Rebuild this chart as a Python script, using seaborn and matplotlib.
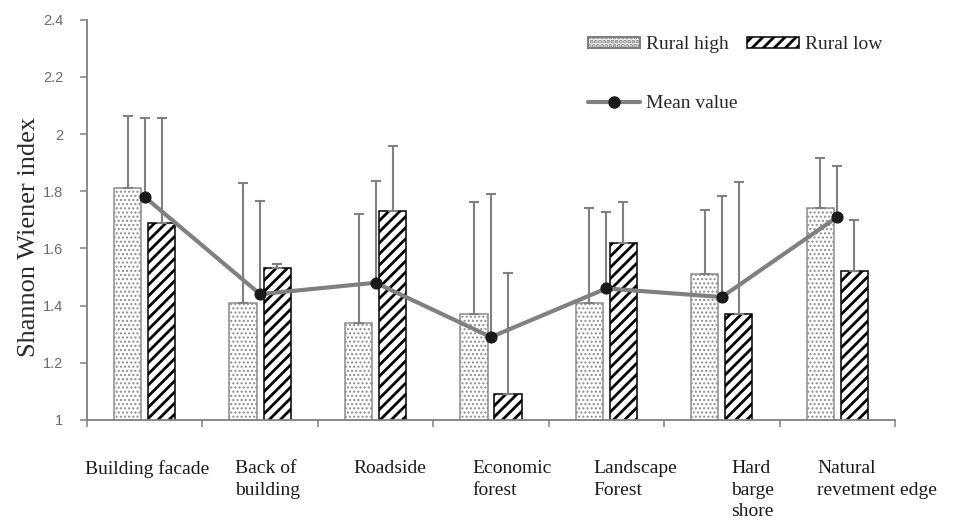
import numpy as np
import pandas as pd
import matplotlib
matplotlib.use("Agg")
import matplotlib.pyplot as plt
import seaborn as sns
from matplotlib.patches import Patch
from matplotlib.lines import Line2D
from matplotlib.transforms import ScaledTranslation

# Habitat categories along the x axis
categories = ["Building facade", "Back of\nbuilding", "Roadside", "Economic\nforest",
              "Landscape\nForest", "Hard\nbarge\nshore", "Natural\nrevetment edge"]

# Shannon-Wiener index per habitat
rural_high = [1.81, 1.41, 1.34, 1.37, 1.41, 1.51, 1.74]
rural_high_err = [0.255, 0.418, 0.38, 0.392, 0.331, 0.223, 0.178]
rural_low = [1.69, 1.53, 1.73, 1.09, 1.62, 1.37, 1.52]
rural_low_err = [0.366, 0.015, 0.227, 0.423, 0.142, 0.464, 0.18]
mean_value = [1.78, 1.44, 1.48, 1.29, 1.46, 1.43, 1.71]
mean_err = [0.276, 0.327, 0.357, 0.499, 0.269, 0.355, 0.179]

y_ticks = [1, 1.2, 1.4, 1.6, 1.8, 2, 2.2, 2.4]
series_names = ["Rural high", "Rural low"]

sns.set_style("white")
plt.rcParams["hatch.linewidth"] = 2.0
SERIF = ["Liberation Serif", "DejaVu Serif"]
SANS = ["Liberation Sans", "DejaVu Sans"]

GREY = "#808080"
DOT_GREY = "#8c8c8c"
DOT_HATCH = "...."
STRIPE_HATCH = "///"

df = pd.DataFrame({
    "site": categories * 2,
    "value": rural_high + rural_low,
    "group": [series_names[0]] * len(categories) + [series_names[1]] * len(categories),
})

fig = plt.figure(figsize=(9.55, 5.21), dpi=100)
ax = fig.add_axes([0.0911, 0.194, 0.846, 0.768])

sns.barplot(data=df, x="site", y="value", hue="group", order=categories,
            hue_order=series_names, palette=["white", "white"], width=0.59, gap=0.2,
            edgecolor=GREY, linewidth=1.1, legend=False, ax=ax, zorder=2)


def style_bars(container, hatch, hatch_color, hatch_lw):
    for p in container.patches:
        p.set_hatch(hatch)
        p.set_facecolor("white")
        if hasattr(p, "set_hatchcolor"):
            p.set_hatchcolor(hatch_color)
        else:
            p.set_edgecolor(hatch_color)
        if hasattr(p, "set_hatch_linewidth"):
            p.set_hatch_linewidth(hatch_lw)


style_bars(ax.containers[0], DOT_HATCH, DOT_GREY, 1.0)
style_bars(ax.containers[1], STRIPE_HATCH, "black", 2.0)

# Upper error bars on each bar
for container, vals, errs in [(ax.containers[0], rural_high, rural_high_err),
                              (ax.containers[1], rural_low, rural_low_err)]:
    xs = [p.get_x() + p.get_width() / 2 for p in container.patches]
    ax.errorbar(xs, vals, yerr=[np.zeros(len(errs)), errs], fmt="none",
                ecolor=GREY, elinewidth=1.5, capsize=3.6, capthick=1.5, zorder=3)

# Mean line with its own upper error bars
xpos = np.arange(len(categories))
ax.errorbar(xpos, mean_value, yerr=[np.zeros(len(mean_err)), mean_err], fmt="none",
            ecolor=GREY, elinewidth=1.5, capsize=3.6, capthick=1.5, zorder=3)
sns.lineplot(x=xpos, y=mean_value, color=GREY, linewidth=3.0, marker="o",
             markersize=8, markerfacecolor="#1a1a1a", markeredgecolor="#1a1a1a",
             ax=ax, zorder=4)

# Axes styling
ax.set_xlim(-0.5, len(categories) - 0.5)
ax.set_ylim(1, 2.4)
ax.set_yticks(y_ticks)
ax.set_yticklabels([f"{v:g}" for v in y_ticks], family=SANS, fontsize=10.5, color="#6a6a6a")
ax.tick_params(axis="y", length=5, width=1.1, color=GREY, direction="out", pad=12, left=True)

ax.set_xticks(xpos)
ax.set_xticklabels(categories, family=SERIF, fontsize=14, color="#1a1a1a",
                   linespacing=1.35, multialignment="left")
ax.set_xticks(np.arange(-0.5, len(categories)), minor=True)
ax.tick_params(axis="x", which="major", length=0, pad=29)
ax.tick_params(axis="x", which="minor", length=5, width=1.1, color=GREY,
               direction="out", bottom=True)

label_shift_px = [2, 7, 14, 21, 29, 31, 40]
for lbl, dx in zip(ax.get_xticklabels(), label_shift_px):
    lbl.set_transform(lbl.get_transform() + ScaledTranslation(dx / 100, 0, fig.dpi_scale_trans))

for side in ["top", "right"]:
    ax.spines[side].set_visible(False)
for side in ["left", "bottom"]:
    ax.spines[side].set_color(GREY)
    ax.spines[side].set_linewidth(1.3)

ax.set_xlabel("")
ax.set_ylabel("Shannon Wiener index", family=SERIF, fontsize=19, color="#2a2a2a")
ax.yaxis.set_label_coords(-0.058, 0.4575)

# Legend: two patch entries on the first row, the mean line on the second
h_high = Patch(facecolor="white", edgecolor=GREY, hatch=DOT_HATCH, linewidth=1.5)
h_low = Patch(facecolor="white", edgecolor="black", hatch=STRIPE_HATCH, linewidth=1.1)
h_mean = Line2D([], [], color=GREY, linewidth=3.0, marker="o", markersize=8,
                markerfacecolor="#1a1a1a", markeredgecolor="#1a1a1a")
fig.legend([h_high, h_mean, h_low], ["Rural high", "Mean value", "Rural low"],
           loc="upper left", bbox_to_anchor=(0.6157, 0.930), ncol=2, frameon=False,
           prop={"family": SERIF, "size": 14}, handlelength=2.7, handleheight=0.45,
           handletextpad=0.3, columnspacing=0.45, labelspacing=2.15, borderpad=0,
           borderaxespad=0)

fig.savefig("out.png", dpi=100)
